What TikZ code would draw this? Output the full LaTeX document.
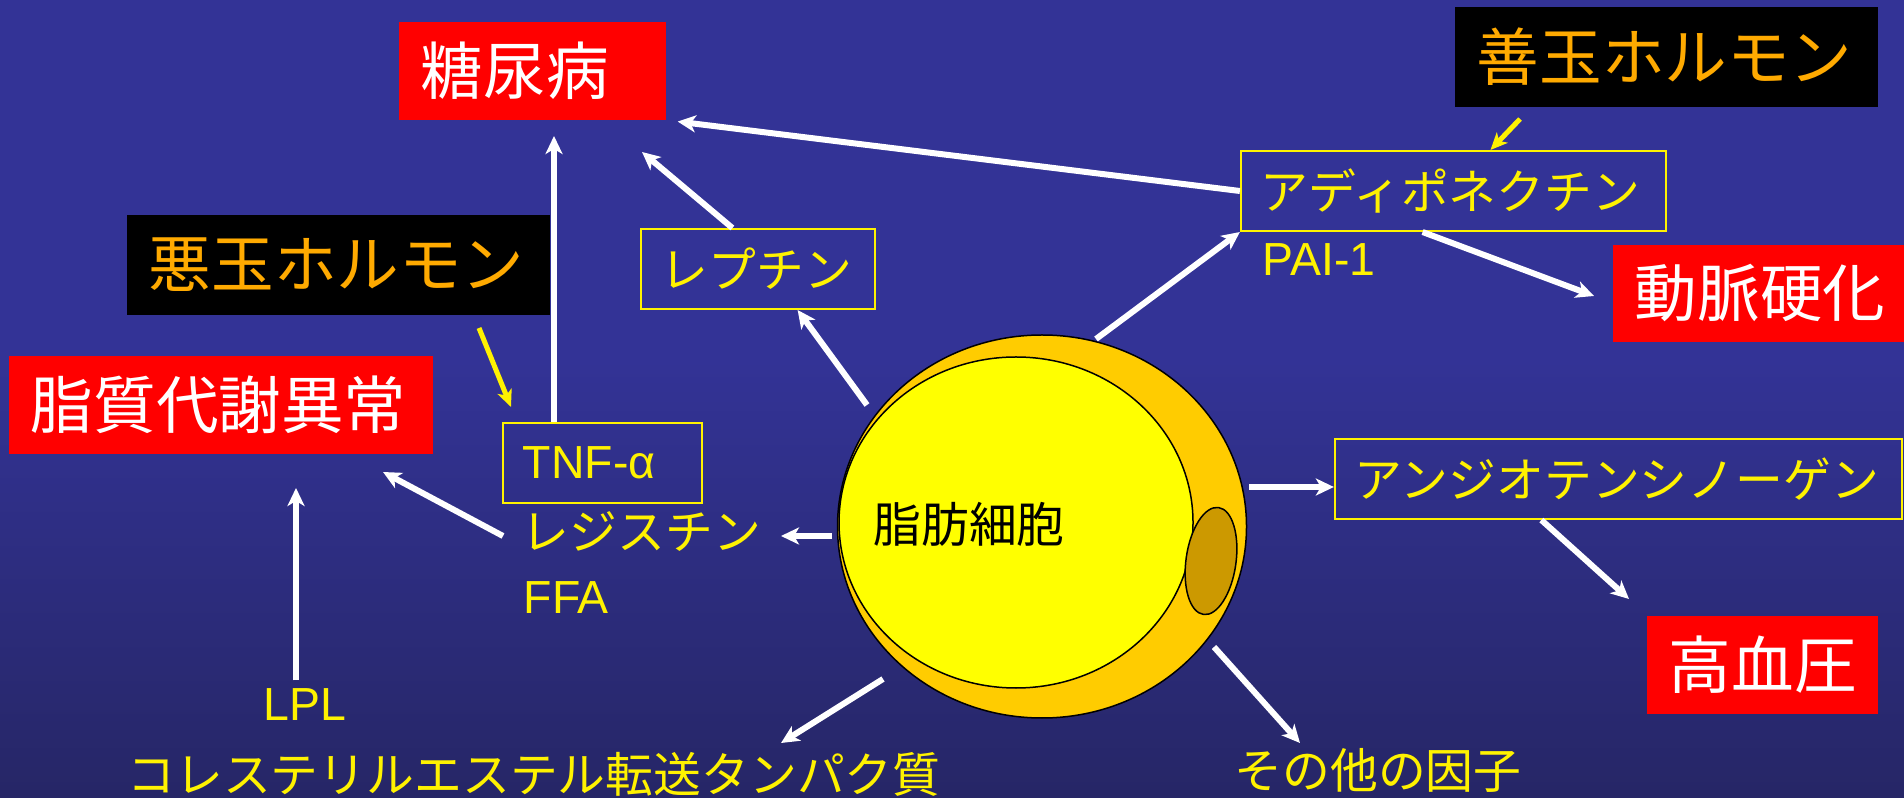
\documentclass[tikz,border=0pt]{standalone}
\usepackage{fontspec}
\setmainfont{Liberation Sans}
\newfontfamily\jpfont{Noto Sans CJK JP}
\usetikzlibrary{positioning}
\usetikzlibrary{arrows.meta}

\definecolor{slideblue}{RGB}{51,51,150}
\definecolor{slidedark}{RGB}{38,38,102}
\definecolor{hormorange}{RGB}{255,170,0}
\definecolor{cellout}{RGB}{255,204,0}
\definecolor{cellin}{RGB}{255,255,0}
\definecolor{nucleus}{RGB}{204,153,0}

\newcommand\bigjp{\jpfont\fontsize{17.8}{20}\selectfont}
\newcommand\midjp{\jpfont\fontsize{13.6}{16}\selectfont}
\newcommand\midlat{\fontsize{13.2}{16}\selectfont}

\tikzset{
    disease/.style={rectangle, fill=red, text=white, font=\bigjp, inner xsep=0.22cm, inner ysep=0pt, align=left, minimum height=0.97cm},
    hormbox/.style={rectangle, fill=black, text=hormorange, font=\bigjp, inner xsep=0.22cm, inner ysep=0pt, align=left, minimum height=1cm},
    factor/.style={rectangle, draw=yellow, line width=0.02cm, text=yellow, font=\midjp, inner xsep=0.2cm, inner ysep=0pt, align=left, minimum height=0.8cm},
    yellowtext/.style={text=yellow, font=\midjp, inner sep=0pt},
    effect/.style={draw=white, line width=0.06cm, -{Stealth[length=0.18cm, width=0.17cm, inset=0.05cm]}},
    hint/.style={draw=yellow, line width=0.05cm, -{Stealth[length=0.17cm, width=0.15cm, inset=0.045cm]}}
}

\begin{document}
\begin{tikzpicture}[x=0.01cm, y=-0.01cm]
    \useasboundingbox (0,0) rectangle (1904,798);
    \fill [slideblue] (0,0) rectangle (1904,798);
    \shade [top color=slideblue, bottom color=slidedark] (0,360) rectangle (1904,798);

    % fat cell
    \draw [fill=cellout, line width=0.015cm] (1042,526.5) ellipse [x radius=204.5, y radius=191.5];
    \draw [fill=cellin, line width=0.015cm] (1016,522.5) ellipse [x radius=177, y radius=165.5];
    \draw [fill=nucleus, line width=0.015cm, rotate around={-8:(1211,561)}] (1211,561) ellipse [x radius=25, y radius=54];
    \node [font=\midjp, inner sep=0pt] (cell) at (969,524) {脂肪細胞};

    % diseases
    \node [disease, text width=2.23cm] (diab) at (532.5,71) {糖尿病};
    \node [disease, text width=3.80cm] (lipid) at (221,405) {脂質代謝異常};
    \node [disease, text width=2.47cm] (athero) at (1758.5,293.5) {動脈硬化};
    \node [disease, text width=1.87cm] (hyper) at (1762.5,665) {高血圧};

    \node [hormbox, text width=3.79cm] (badh) at (338.5,265) {悪玉ホルモン};
    \node [hormbox, text width=3.79cm] (goodh) at (1666.5,57) {善玉ホルモン};

    % secreted factors
    \node [factor, text width=1.94cm] (leptin) at (758,269) {レプチン};
    \node [factor, text width=3.85cm] (adipo) at (1453.5,191) {アディポネクチン};
    \node [factor, text width=1.59cm, font=\midlat] (tnf) at (602.5,463) {TNF-α};
    \node [factor, text width=5.27cm] (angio) at (1618.5,479) {アンジオテンシノーゲン};

    \node [yellowtext, font=\midlat, below right=0.11cm and 0.22cm of adipo.south west] (pai) {PAI-1};
    \node [yellowtext, anchor=west] (resistin) at (521,531) {レジスチン};
    \node [yellowtext, font=\midlat, below right=0.29cm and 0.02cm of resistin.south west] (ffa) {FFA};
    \node [yellowtext, font=\midlat] (lpl) at (305,705) {LPL};
    \node [yellowtext] (cetp) at (534,774) {コレステリルエステル転送タンパク質};
    \node [yellowtext] (others) at (1378,770) {その他の因子};

    % loose arrow ends
    \coordinate (lep-tip) at (642,152);
    \coordinate (tnf-tip) at (554,136);
    \coordinate (cell-nw) at (867,405);
    \coordinate (cell-ne) at (1096,339);
    \coordinate (ath-tip) at (1594,296);
    \coordinate (good-from) at (1520,119);
    \coordinate (bad-from) at (479,328);
    \coordinate (bad-tip) at (511,407);
    \coordinate (res-from) at (503,536);
    \coordinate (lip-tip) at (383,472);
    \coordinate (lpl-tip) at (296,488);
    \coordinate (cell-w) at (832,536);
    \coordinate (res-tip) at (781,536);
    \coordinate (cell-sw) at (883,679);
    \coordinate (cetp-tip) at (781,743);
    \coordinate (cell-e) at (1249,487);
    \coordinate (hyp-tip) at (1629,599);
    \coordinate (cell-se) at (1214,647);
    \coordinate (oth-tip) at (1300,743);

    \draw [effect, shorten >=0.11cm] (adipo.west) -- (diab.south east);
    \draw [effect] (leptin.122) -- (lep-tip);
    \draw [effect] (tnf.north -| tnf-tip) -- (tnf-tip);
    \draw [effect] (cell-nw) -- (leptin.-46);
    \draw [effect] (cell-ne) -- (adipo.south west);
    \draw [effect] (adipo.-127) -- (ath-tip);
    \draw [hint] (good-from) -- (adipo.48);
    \draw [hint] (bad-from) -- (bad-tip);
    \draw [effect] (res-from) -- (lip-tip);
    \draw [effect, shorten <=0.08cm] (lpl.north -| lpl-tip) -- (lpl-tip);
    \draw [effect] (cell-w) -- (res-tip);
    \draw [effect] (cell-sw) -- (cetp-tip);
    \draw [effect] (cell-e) -- (angio.west |- cell-e);
    \draw [effect] (angio.-152) -- (hyp-tip);
    \draw [effect] (cell-se) -- (oth-tip);
\end{tikzpicture}
\end{document}
